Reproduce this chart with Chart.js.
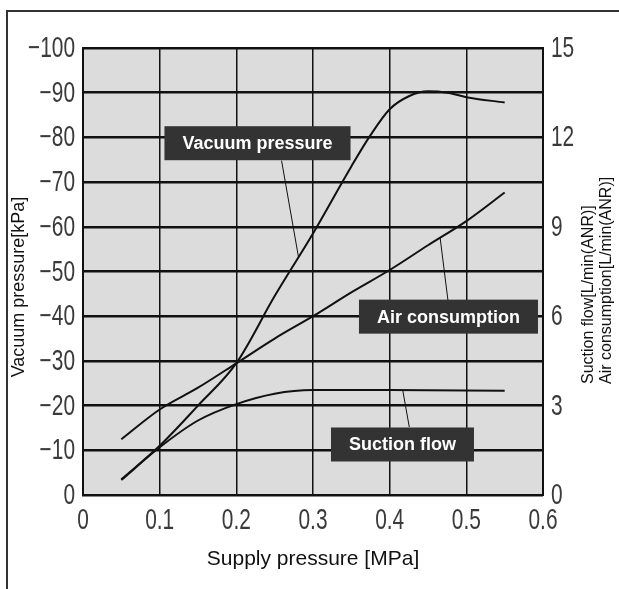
<!DOCTYPE html>
<html>
<head>
<meta charset="utf-8">
<script src="https://cdn.jsdelivr.net/npm/chart.js@4.4.0/dist/chart.umd.min.js"></script>
<style>
  html, body { margin: 0; padding: 0; background: #fff; }
  #wrap { position: relative; width: 619px; height: 589px; }
</style>
</head>
<body>
<div id="wrap"><canvas id="chart" width="619" height="589"></canvas></div>
<script>
// Vacuum pressure [kPa] vs supply pressure [MPa]
const vacuumX = [0.05, 0.1, 0.15, 0.2, 0.25, 0.3, 0.35, 0.375, 0.4, 0.425, 0.45, 0.475, 0.5, 0.55];
const vacuumKPa = [-3.5, -11, -20, -29.5, -44.5, -58.5, -73.5, -80.5, -86.3, -89.2, -90.3, -90, -89, -87.8];

// Air consumption [L/min(ANR)]
const airX = [0.05, 0.1, 0.15, 0.2, 0.25, 0.3, 0.35, 0.4, 0.45, 0.5, 0.55];
const airFlow = [1.87, 2.87, 3.6, 4.42, 5.25, 6.0, 6.8, 7.55, 8.38, 9.19, 10.15];

// Suction flow [L/min(ANR)]
const suctionX = [0.05, 0.1, 0.15, 0.2, 0.25, 0.3, 0.4, 0.55];
const suctionFlow = [0.5, 1.6, 2.5, 3.05, 3.4, 3.52, 3.52, 3.5];

// Callout boxes (in data units: x = MPa, y = kPa)
const callouts = [
  { text: 'Vacuum pressure', at: [0.2276, -78.7], from: [0.259, -74.8], to: [0.281, -53.3] },
  { text: 'Air consumption', at: [0.4767, -39.9], from: [0.4657, -57.7], to: [0.476, -43.6] },
  { text: 'Suction flow', at: [0.4167, -11.3], from: [0.417, -23.5], to: [0.4256, -15.2] }
];

const sans = "'Liberation Sans', Arial, sans-serif";
const tickColor = '#3a3a3a';
const ink = '#111';

const toPoints = (xs, ys) => xs.map((x, i) => ({ x: x, y: ys[i] }));

const lineStyle = {
  borderColor: ink,
  borderWidth: 2,
  pointRadius: 0,
  fill: false,
  cubicInterpolationMode: 'monotone'
};

// condensed tick label, drawn squeezed horizontally like the original
function narrowText(ctx, text, x, y, align) {
  ctx.save();
  ctx.translate(x, y);
  ctx.scale(0.72, 1);
  ctx.textAlign = align;
  ctx.fillText(text, 0, 0);
  ctx.restore();
}

const decor = {
  id: 'decor',
  beforeDraw(chart) {
    const { ctx, chartArea: a } = chart;
    ctx.save();
    ctx.fillStyle = '#dcdcdc';
    ctx.fillRect(a.left, a.top, a.right - a.left, a.bottom - a.top);
    // outer frame
    ctx.strokeStyle = '#333';
    ctx.lineWidth = 2;
    ctx.beginPath();
    ctx.moveTo(7, 589);
    ctx.lineTo(7, 11);
    ctx.lineTo(619, 11);
    ctx.stroke();
    ctx.restore();
  },
  afterDraw(chart) {
    const { ctx, scales, chartArea: a } = chart;
    const px = v => scales.x.getPixelForValue(v);
    const py = v => scales.y.getPixelForValue(v);
    ctx.save();

    // tick labels
    ctx.font = '29px ' + sans;
    ctx.fillStyle = tickColor;
    ctx.textBaseline = 'middle';
    scales.y.ticks.forEach(t => {
      const lbl = t.value === 0 ? '0' : '\u2212' + Math.abs(t.value);
      narrowText(ctx, lbl, a.left - 8, scales.y.getPixelForValue(t.value) + 1, 'right');
    });
    scales.y2.ticks.forEach(t => {
      narrowText(ctx, String(t.value), a.right + 8, scales.y2.getPixelForValue(t.value) + 1, 'left');
    });
    scales.x.ticks.forEach(t => {
      const lbl = t.value === 0 ? '0' : t.value.toFixed(1);
      narrowText(ctx, lbl, scales.x.getPixelForValue(t.value), a.bottom + 26, 'center');
    });

    // callouts
    callouts.forEach(c => {
      ctx.strokeStyle = ink;
      ctx.lineWidth = 1;
      ctx.beginPath();
      ctx.moveTo(px(c.from[0]), py(c.from[1]));
      ctx.lineTo(px(c.to[0]), py(c.to[1]));
      ctx.stroke();
      ctx.font = 'bold 18px ' + sans;
      const w = ctx.measureText(c.text).width + 36;
      const h = 34;
      const cx = px(c.at[0]), cy = py(c.at[1]);
      ctx.fillStyle = '#333';
      ctx.fillRect(cx - w / 2, cy - h / 2, w, h);
      ctx.fillStyle = '#fff';
      ctx.textAlign = 'center';
      ctx.textBaseline = 'middle';
      ctx.fillText(c.text, cx, cy + 1);
    });

    // left axis title
    ctx.fillStyle = ink;
    ctx.textBaseline = 'middle';
    ctx.save();
    ctx.translate(19, 287);
    ctx.rotate(-Math.PI / 2);
    ctx.font = '18px ' + sans;
    ctx.textAlign = 'center';
    ctx.fillText('Vacuum pressure[kPa]', 0, 0);
    ctx.restore();

    // right axis title (two lines, reading upward)
    ctx.save();
    ctx.translate(589, 384);
    ctx.rotate(-Math.PI / 2);
    ctx.font = '16px ' + sans;
    ctx.textAlign = 'left';
    ctx.fillText('Suction flow[L/min(ANR)]', 0, 0);
    ctx.fillText('Air consumption[L/min(ANR)]', 0, 18);
    ctx.restore();

    ctx.restore();
  }
};

new Chart(document.getElementById('chart'), {
  type: 'line',
  data: {
    datasets: [
      Object.assign({ label: 'Vacuum pressure', data: toPoints(vacuumX, vacuumKPa), yAxisID: 'y' }, lineStyle),
      Object.assign({ label: 'Air consumption', data: toPoints(airX, airFlow), yAxisID: 'y2' }, lineStyle),
      Object.assign({ label: 'Suction flow', data: toPoints(suctionX, suctionFlow), yAxisID: 'y2' }, lineStyle)
    ]
  },
  options: {
    responsive: false,
    animation: false,
    layout: { padding: { top: 48, left: 0, right: 0, bottom: 0 } },
    plugins: {
      legend: { display: false },
      tooltip: { enabled: false }
    },
    scales: {
      x: {
        type: 'linear',
        min: 0,
        max: 0.6,
        afterFit: s => { s.height = 94; },
        ticks: { stepSize: 0.1, display: false },
        grid: { color: ink, lineWidth: 1.5, drawTicks: false },
        border: { color: ink, width: 2 },
        title: {
          display: true,
          text: 'Supply pressure [MPa]',
          color: ink,
          font: { family: sans, size: 21 },
          padding: { top: 0, bottom: 17 }
        }
      },
      y: {
        position: 'left',
        min: -100,
        max: 0,
        reverse: true,
        afterFit: s => { s.width = 83; },
        ticks: { stepSize: 10, display: false },
        grid: { color: ink, lineWidth: 2.5, drawTicks: false },
        border: { color: ink, width: 2 }
      },
      y2: {
        position: 'right',
        min: 0,
        max: 15,
        afterFit: s => { s.width = 76; },
        ticks: { stepSize: 3, display: false },
        grid: { display: false, drawTicks: false },
        border: { color: ink, width: 2 }
      }
    }
  },
  plugins: [decor]
});
</script>
</body>
</html>
